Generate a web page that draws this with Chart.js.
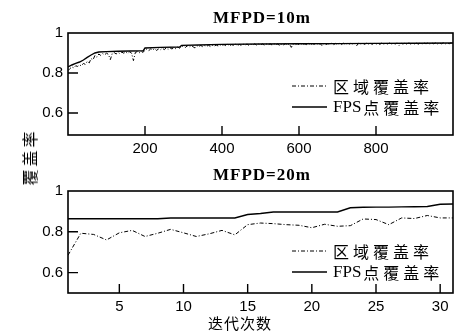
<!DOCTYPE html>
<html>
<head>
<meta charset="utf-8">
<script src="https://cdn.jsdelivr.net/npm/chart.js@4/dist/chart.umd.min.js"></script>
<style>
  body { margin: 0; background: #fff; }
  #wrap { position: relative; width: 454px; height: 335px; overflow: hidden; }
  canvas { position: absolute; left: 0; }
  .lbl { position: absolute; font-family: "Noto Sans CJK SC", sans-serif; color: #000; white-space: nowrap; line-height: 1; }
  .ttl { position: absolute; font: bold 17px "Liberation Serif", serif; letter-spacing: 1px; color: #000; white-space: nowrap; line-height: 1; transform: translate(-50%, -50%); }
</style>
</head>
<body>
<div id="wrap">
  <canvas id="topChart" width="454" height="160" style="top:0"></canvas>
  <canvas id="bottomChart" width="454" height="175" style="top:160px"></canvas>
  <div class="ttl" style="left:262px;top:17px;">MFPD=10m</div>
  <div class="ttl" style="left:262px;top:174px;">MFPD=20m</div>
  <div class="lbl" id="ylabel" style="font-size:16px;letter-spacing:3px;left:29px;top:157px;transform:translate(-50%,-50%) rotate(-90deg);">覆盖率</div>
  <div class="lbl" id="xlabel" style="font-size:15px;letter-spacing:1px;left:240px;top:322px;transform:translate(-50%,-50%);">迭代次数</div>
</div>
<script>
// ---- data ----
var seriesNames = ['区域覆盖率', 'FPS点覆盖率'];
var yTicks = [0.6, 0.8, 1];

// MFPD=10m : region coverage, one value every 5 iterations (0..1000)
var topAreaStep = 5;
var topArea = [
  0.812, 0.822, 0.83, 0.826, 0.836, 0.833, 0.84, 0.836, 0.848, 0.843, 0.858, 0.85, 0.872, 0.866, 0.888, 0.879, 0.895, 0.888, 0.897, 0.891,
  0.899, 0.893, 0.867, 0.898, 0.902, 0.895, 0.903, 0.897, 0.904, 0.899, 0.905, 0.898, 0.906, 0.9, 0.862, 0.903, 0.907, 0.901, 0.908, 0.903,
  0.915, 0.92, 0.912, 0.921, 0.915, 0.922, 0.913, 0.92, 0.916, 0.924, 0.917, 0.925, 0.918, 0.926, 0.92, 0.927, 0.921, 0.93, 0.924, 0.932,
  0.935, 0.928, 0.936, 0.93, 0.937, 0.931, 0.925, 0.936, 0.932, 0.938, 0.931, 0.937, 0.933, 0.939, 0.932, 0.938, 0.934, 0.94, 0.935, 0.941,
  0.936, 0.942, 0.937, 0.943, 0.936, 0.942, 0.938, 0.944, 0.937, 0.943, 0.938, 0.944, 0.939, 0.945, 0.938, 0.944, 0.94, 0.946, 0.939, 0.945,
  0.94, 0.946, 0.939, 0.945, 0.941, 0.946, 0.94, 0.947, 0.941, 0.946, 0.935, 0.945, 0.941, 0.947, 0.94, 0.946, 0.928, 0.945, 0.941, 0.947,
  0.942, 0.947, 0.941, 0.946, 0.942, 0.948, 0.941, 0.947, 0.943, 0.948, 0.942, 0.947, 0.936, 0.948, 0.942, 0.947, 0.943, 0.949, 0.942, 0.948,
  0.943, 0.948, 0.942, 0.949, 0.943, 0.948, 0.944, 0.949, 0.943, 0.948, 0.937, 0.949, 0.944, 0.95, 0.943, 0.949, 0.944, 0.95, 0.943, 0.949,
  0.944, 0.949, 0.943, 0.95, 0.944, 0.949, 0.945, 0.95, 0.944, 0.949, 0.945, 0.95, 0.938, 0.949, 0.945, 0.95, 0.944, 0.951, 0.945, 0.95,
  0.945, 0.95, 0.944, 0.951, 0.945, 0.95, 0.946, 0.951, 0.945, 0.95, 0.946, 0.951, 0.945, 0.95, 0.946, 0.951, 0.945, 0.95, 0.946, 0.951,
  0.947
];
// MFPD=10m : FPS point coverage at its break points
var topFpsIter = [0, 10, 20, 30, 40, 50, 60, 70, 80, 100, 130, 160, 195, 200, 240, 290, 295, 340, 400, 500, 600, 700, 800, 900, 1000];
var topFps = [0.83, 0.84, 0.848, 0.855, 0.865, 0.878, 0.89, 0.9, 0.905, 0.907, 0.909, 0.91, 0.911, 0.925, 0.928, 0.93, 0.938, 0.94, 0.943, 0.945, 0.946, 0.947, 0.948, 0.949, 0.95];
var topXTicks = [200, 400, 600, 800];

// MFPD=20m : iterations 1..31
var bottomIter = [1, 2, 3, 4, 5, 6, 7, 8, 9, 10, 11, 12, 13, 14, 15, 16, 17, 18, 19, 20, 21, 22, 23, 24, 25, 26, 27, 28, 29, 30, 31];
var bottomArea = [0.685, 0.793, 0.787, 0.76, 0.795, 0.807, 0.777, 0.793, 0.812, 0.795, 0.777, 0.79, 0.807, 0.785, 0.835, 0.843,
  0.84, 0.835, 0.832, 0.82, 0.837, 0.827, 0.83, 0.863, 0.86, 0.835, 0.868, 0.865, 0.88, 0.868, 0.868];
var bottomFps = [0.864, 0.864, 0.864, 0.864, 0.864, 0.864, 0.864, 0.864, 0.868, 0.868, 0.868, 0.868, 0.868, 0.868, 0.885, 0.89,
  0.897, 0.897, 0.897, 0.897, 0.897, 0.897, 0.918, 0.92, 0.921, 0.921, 0.922, 0.923, 0.924, 0.935, 0.936];
var bottomXTicks = [5, 10, 15, 20, 25, 30];

// frame around the plot + ticks pointing inward
var frameTicks = {
  id: 'frameTicks',
  afterDatasetsDraw: function(chart) {
    var ctx = chart.ctx, a = chart.chartArea;
    var xs = chart.scales.x, ys = chart.scales.y;
    ctx.save();
    ctx.strokeStyle = '#000';
    ctx.lineWidth = 1.6;
    ctx.strokeRect(a.left, a.top, a.right - a.left, a.bottom - a.top);
    ctx.lineWidth = 1.4;
    ctx.beginPath();
    xs.ticks.forEach(function(t) {
      var px = xs.getPixelForValue(t.value);
      if (px < a.left + 2 || px > a.right - 2) return;
      ctx.moveTo(px, a.bottom);
      ctx.lineTo(px, a.bottom - 9);
    });
    ys.ticks.forEach(function(t) {
      var py = ys.getPixelForValue(t.value);
      if (py < a.top + 2 || py > a.bottom - 2) return;
      ctx.moveTo(a.left, py);
      ctx.lineTo(a.left + 10, py);
    });
    ctx.stroke();
    ctx.restore();
  }
};

// legend drawn inside the plot area; latin part tight, CJK part spaced
var innerLegend = {
  id: 'innerLegend',
  afterDraw: function(chart, args, opts) {
    var ctx = chart.ctx;
    ctx.save();
    chart.data.datasets.forEach(function(ds, i) {
      var y = opts.rows[i];
      ctx.strokeStyle = '#000';
      ctx.lineWidth = ds.borderWidth;
      ctx.setLineDash(ds.borderDash || []);
      ctx.beginPath();
      ctx.moveTo(opts.x, y);
      ctx.lineTo(opts.x + 35, y);
      ctx.stroke();
      ctx.setLineDash([]);
      ctx.fillStyle = '#000';
      ctx.textBaseline = 'middle';
      var m = ds.label.match(/^([A-Za-z]*)(.*)$/);
      var tx = opts.x + 41;
      if (m[1]) {
        ctx.font = '17px "Liberation Serif"';
        ctx.letterSpacing = '0px';
        ctx.fillText(m[1], tx, y + 1);
        tx += ctx.measureText(m[1]).width + 2;
      }
      ctx.font = '16px "Noto Sans CJK SC"';
      ctx.letterSpacing = '4px';
      ctx.fillText(m[2], tx, y + 1);
    });
    ctx.restore();
  }
};

function makeChart(id, cfg) {
  var ctx = document.getElementById(id).getContext('2d');
  return new Chart(ctx, {
    type: 'line',
    data: {
      datasets: [
        { label: seriesNames[0], data: cfg.area, borderColor: '#000', borderWidth: 1,
          borderDash: [4, 2, 1, 2], pointRadius: 0, tension: 0 },
        { label: seriesNames[1], data: cfg.fps, borderColor: '#000', borderWidth: 1.4,
          pointRadius: 0, tension: 0 }
      ]
    },
    options: {
      responsive: false,
      animation: false,
      devicePixelRatio: 1,
      layout: { padding: { left: 0, right: 1, top: cfg.padTop, bottom: 0 } },
      plugins: {
        legend: { display: false },
        tooltip: { enabled: false },
        title: { display: false },
        innerLegend: { x: 292, rows: cfg.legendRows }
      },
      scales: {
        x: {
          type: 'linear', min: cfg.xMin, max: cfg.xMax,
          grid: { display: false, drawTicks: false },
          border: { display: false },
          afterBuildTicks: function(s) { s.ticks = cfg.xTicks.map(function(v) { return { value: v }; }); },
          afterFit: function(s) { s.height = cfg.xAxisH; },
          ticks: { color: '#000', padding: 5, maxRotation: 0, font: { family: '"Liberation Sans"', size: 15 },
            callback: function(v) { return String(v); } }
        },
        y: {
          type: 'linear', min: cfg.yMin, max: 1,
          grid: { display: false, drawTicks: false },
          border: { display: false },
          afterBuildTicks: function(s) { s.ticks = yTicks.map(function(v) { return { value: v }; }); },
          afterFit: function(s) { s.width = 68; },
          ticks: { color: '#000', padding: 5, font: { family: '"Liberation Sans"', size: 15 },
            callback: function(v) { return String(v); } }
        }
      }
    },
    plugins: [frameTicks, innerLegend]
  });
}

var topAreaPts = topArea.map(function(v, i) { return { x: i * topAreaStep, y: v }; });
var topFpsPts = topFps.map(function(v, i) { return { x: topFpsIter[i], y: v }; });
var bottomAreaPts = bottomArea.map(function(v, i) { return { x: bottomIter[i], y: v }; });
var bottomFpsPts = bottomFps.map(function(v, i) { return { x: bottomIter[i], y: v }; });

makeChart('topChart', {
  padTop: 33,
  area: topAreaPts, fps: topFpsPts,
  xMin: 0, xMax: 1000, xTicks: topXTicks, xAxisH: 25, yMin: 0.49,
  legendRows: [86, 107]
});
makeChart('bottomChart', {
  padTop: 31,
  area: bottomAreaPts, fps: bottomFpsPts,
  xMin: 1, xMax: 31, xTicks: bottomXTicks, xAxisH: 42, yMin: 0.5,
  legendRows: [91, 112]
});
</script>
</body>
</html>
